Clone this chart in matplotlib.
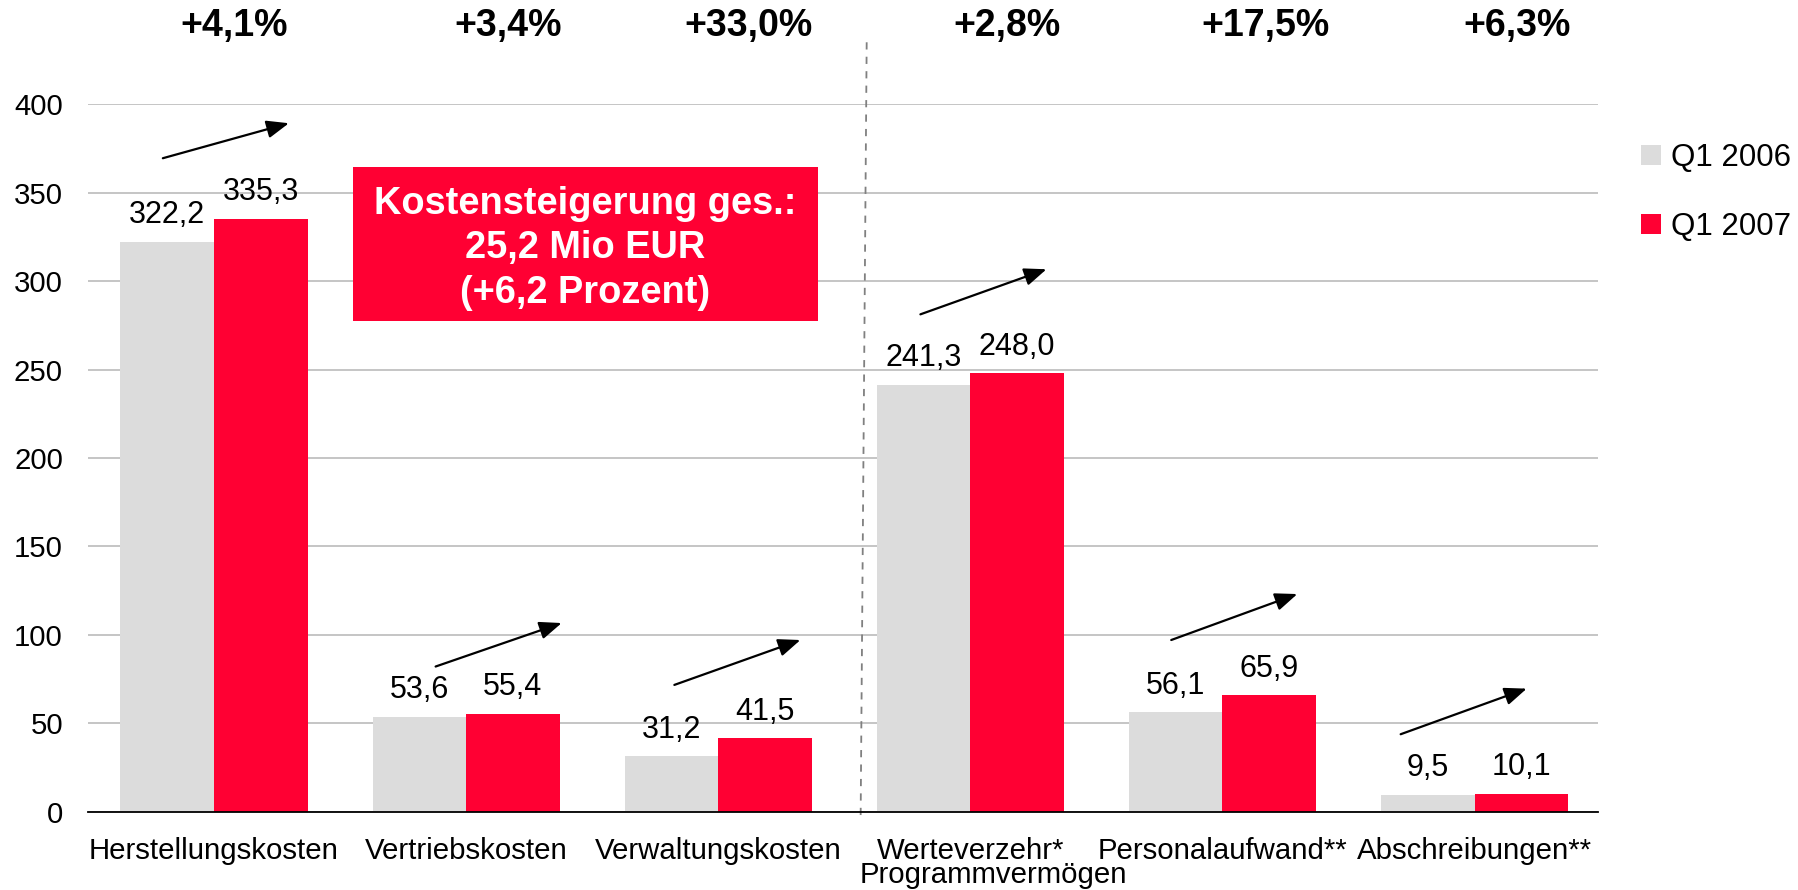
import matplotlib
matplotlib.use("Agg")
import matplotlib.pyplot as plt
from matplotlib.patches import Rectangle
from matplotlib.transforms import blended_transform_factory
import numpy as np

plt.rcParams["font.family"] = ["Liberation Sans", "DejaVu Sans"]

# ---- data ----
categories = ["Herstellungskosten", "Vertriebskosten", "Verwaltungskosten",
              "Werteverzehr*\nProgrammvermögen", "Personalaufwand**", "Abschreibungen**"]
q1_2006 = [322.2, 53.6, 31.2, 241.3, 56.1, 9.5]
q1_2007 = [335.3, 55.4, 41.5, 248.0, 65.9, 10.1]
series_names = ["Q1 2006", "Q1 2007"]
pct_change = ["+4,1%", "+3,4%", "+33,0%", "+2,8%", "+17,5%", "+6,3%"]
yticks = [0, 50, 100, 150, 200, 250, 300, 350, 400]
callout_lines = ["Kostensteigerung ges.:", "25,2 Mio EUR", "(+6,2 Prozent)"]

# ---- layout / style ----
GRAY = "#DCDCDC"
RED = "#FF0033"
pct_dx = [0.08, 0.165, 0.12, 0.145, 0.17, 0.17]
arrow_start_dx = [-0.203, -0.121, -0.174, -0.198, -0.203, -0.293]
arrow_gap = [34.2, 26.6, 30.1, 33.2, 31.1, 33.6]
arrow_rise = [19.8, 24.6, 25.4, 25.5, 26.0, 25.8]
arrow_run = 0.5
FS = 21.2


def fmt(v):
    return f"{v:.1f}".replace(".", ",")


fig = plt.figure(figsize=(17.99, 8.90), dpi=100)
ax = fig.add_axes([0.0489, 0.0882, 0.8394, 0.7946])

x = np.arange(len(categories))
w = 0.371
b1 = ax.bar(x - w / 2, q1_2006, w, color=GRAY, zorder=2, label=series_names[0])
b2 = ax.bar(x + w / 2, q1_2007, w, color=RED, zorder=2, label=series_names[1])

ax.set_xlim(-0.5, 5.49)
ax.set_ylim(0, 400)
ax.set_yticks(yticks)
ax.set_yticklabels([str(t) for t in yticks])
ax.set_xticks(x)
first_lines = [c.split("\n")[0] for c in categories]
ax.set_xticklabels(first_lines)
ax.yaxis.grid(True, color="#C0C0C0", lw=1.3)
ax.set_axisbelow(True)
for s in ["top", "right", "left"]:
    ax.spines[s].set_visible(False)
ax.spines["bottom"].set_color("black")
ax.spines["bottom"].set_linewidth(1.3)
ax.spines["bottom"].set_zorder(3)
ax.tick_params(axis="x", length=0, pad=18, labelsize=FS)
ax.tick_params(axis="y", length=0, pad=18, labelsize=FS)

# second line of wrapped category labels (slightly offset to the right, as in the original)
for i, c in enumerate(categories):
    parts = c.split("\n")
    if len(parts) > 1:
        ax.annotate(parts[1], xy=(x[i], 0), xycoords=("data", "axes fraction"),
                    xytext=(16.5, -51.5), textcoords="offset points",
                    ha="center", va="baseline", fontsize=FS,
                    annotation_clip=False)

# value labels
for bars, vals in ((b1, q1_2006), (b2, q1_2007)):
    for rect, v in zip(bars, vals):
        ax.annotate(fmt(v), xy=(rect.get_x() + rect.get_width() / 2, v),
                    xytext=(0, 13.3), textcoords="offset points",
                    ha="center", va="baseline", fontsize=22)

# trend arrows
for i in range(len(categories)):
    sx = x[i] + arrow_start_dx[i]
    sy = max(q1_2006[i], q1_2007[i]) + arrow_gap[i]
    ax.annotate("", xy=(sx + arrow_run, sy + arrow_rise[i]), xytext=(sx, sy),
                arrowprops=dict(arrowstyle="-|>,head_length=0.75,head_width=0.3",
                                color="black", lw=1.6, shrinkA=0, shrinkB=0,
                                mutation_scale=18),
                annotation_clip=False, zorder=4)

# percentage changes on top
trans = blended_transform_factory(ax.transData, fig.transFigure)
for i, p in enumerate(pct_change):
    ax.text(x[i] + pct_dx[i], 0.9596, p, transform=trans, ha="center",
            va="baseline", fontsize=27, fontweight="bold")

# dashed separator
ax.plot([2.565, 2.589], [-2, 437], ls=(0, (4, 4)), color="#808080", lw=1.3,
        clip_on=False, zorder=1)

# callout box
ax.add_patch(Rectangle((0.551, 277.6), 1.843, 86.8, facecolor=RED,
                       edgecolor="none", zorder=3))
ax.text(1.4725, 318.5, "\n".join(callout_lines), ha="center", va="center",
        color="white", fontsize=27.4, fontweight="bold", linespacing=1.3,
        zorder=4)

ax.legend(loc="center left", bbox_to_anchor=(0.9122, 0.7837),
          bbox_transform=fig.transFigure, frameon=False, fontsize=22.5,
          handlelength=0.65, handleheight=0.65, handletextpad=0.3,
          labelspacing=1.25, borderpad=0, borderaxespad=0)

fig.savefig("out.png", dpi=100)
